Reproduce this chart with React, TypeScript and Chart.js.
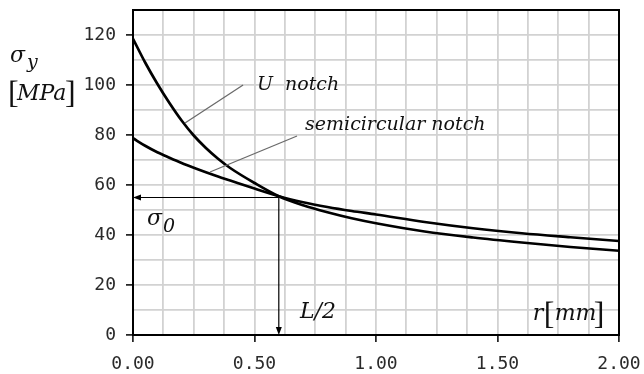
import React, { useEffect, useRef } from "react";
import { Chart, registerables } from "chart.js";

Chart.register(...registerables);

// r [mm]
const rValues = [0, 0.05, 0.1, 0.15, 0.2, 0.25, 0.3, 0.35, 0.4, 0.5, 0.6, 0.7, 0.8, 0.9, 1.0, 1.2, 1.4, 1.6, 1.8, 2.0];
// sigma_y [MPa]
const uNotch = [118.5, 109, 100.5, 92.8, 85.8, 79.8, 74.8, 70.5, 66.8, 60.8, 55.5, 51.9, 49.1, 46.7, 44.7, 41.4, 39.0, 37.0, 35.2, 33.7];
const semiNotch = [78.7, 75.7, 73.1, 70.9, 68.8, 66.9, 65.1, 63.4, 61.8, 58.6, 55.5, 53.1, 51.2, 49.6, 48.2, 45.2, 42.7, 40.7, 39.1, 37.6];

const xMin = 0, xMax = 2, xGridStep = 0.125, xLabelStep = 0.5;
const yMin = 0, yMax = 130, yGridStep = 10, yLabelStep = 20;

const SIGMA0 = 55;
const HALF_L = 0.6;

// leader lines (data coords)
const uLeader = [[0.453, 100], [0.214, 84.8]];
const semiLeader = [[0.675, 79.6], [0.317, 65.2]];
// label anchors (data coords, left/baseline)
const uLabelPos = [0.51, 98];
const semiLabelPos = [0.708, 82];
const halfLLabelPos = [0.687, 6.8];
const rLabelPos = [1.645, 6];
const sigma0LabelPos = [0.058, 44];

const SERIF = '"DejaVu Serif", serif';
const BRACKET = '"Liberation Serif", serif';

const isMultiple = (v: number, s: number) => Math.abs(v / s - Math.round(v / s)) < 1e-6;

const annotPlugin = {
  id: "annot",
  afterDatasetsDraw(chart: any) {
    const { ctx, chartArea: a, scales } = chart;
    const x = scales.x, y = scales.y;
    const P = (p: number[]) => [x.getPixelForValue(p[0]), y.getPixelForValue(p[1])];
    ctx.save();

    // frame
    ctx.strokeStyle = "#000";
    ctx.lineWidth = 2;
    ctx.strokeRect(a.left, a.top, a.right - a.left, a.bottom - a.top);

    // leader lines
    ctx.strokeStyle = "#6a6a6a";
    ctx.lineWidth = 1.3;
    for (const l of [uLeader, semiLeader]) {
      const p0 = P(l[0]), p1 = P(l[1]);
      ctx.beginPath();
      ctx.moveTo(p0[0], p0[1]);
      ctx.lineTo(p1[0], p1[1]);
      ctx.stroke();
    }

    // arrows
    const px = x.getPixelForValue(HALF_L), py = y.getPixelForValue(SIGMA0);
    const x0 = x.getPixelForValue(xMin), y0 = y.getPixelForValue(yMin);
    ctx.strokeStyle = "#000";
    ctx.fillStyle = "#000";
    ctx.lineWidth = 1.2;
    ctx.beginPath();
    ctx.moveTo(px, py);
    ctx.lineTo(x0 + 4, py);
    ctx.moveTo(px, py);
    ctx.lineTo(px, y0 - 4);
    ctx.stroke();
    ctx.beginPath();
    ctx.moveTo(x0, py);
    ctx.lineTo(x0 + 8, py - 3);
    ctx.lineTo(x0 + 8, py + 3);
    ctx.closePath();
    ctx.fill();
    ctx.beginPath();
    ctx.moveTo(px, y0);
    ctx.lineTo(px - 3, y0 - 8);
    ctx.lineTo(px + 3, y0 - 8);
    ctx.closePath();
    ctx.fill();

    // texts
    ctx.fillStyle = "#111";
    ctx.textBaseline = "alphabetic";
    ctx.textAlign = "left";
    let p = P(uLabelPos);
    ctx.font = `italic 19px ${SERIF}`;
    ctx.fillText("U  notch", p[0], p[1]);
    p = P(semiLabelPos);
    ctx.fillText("semicircular notch", p[0], p[1]);

    ctx.font = `italic 22px ${SERIF}`;
    p = P(halfLLabelPos);
    ctx.fillText("L/2", p[0], p[1]);

    // r [mm]
    p = P(rLabelPos);
    ctx.fillText("r", p[0], p[1]);
    ctx.font = `32px ${BRACKET}`;
    ctx.fillText("[", p[0] + 11, p[1] + 4);
    ctx.font = `italic 22px ${SERIF}`;
    ctx.fillText("mm", p[0] + 22, p[1]);
    ctx.font = `32px ${BRACKET}`;
    ctx.fillText("]", p[0] + 61, p[1] + 4);

    // sigma0
    p = P(sigma0LabelPos);
    ctx.font = `italic 22px ${SERIF}`;
    ctx.fillText("σ", p[0], p[1]);
    ctx.font = `italic 19px ${SERIF}`;
    ctx.fillText("0", p[0] + 16, p[1] + 7);

    // y axis title
    ctx.font = `italic 22px ${SERIF}`;
    ctx.fillText("σ", 10, 62);
    ctx.font = `italic 19px ${SERIF}`;
    ctx.fillText("y", 27, 68);
    ctx.font = `32px ${BRACKET}`;
    ctx.fillText("[", 8, 103);
    ctx.font = `italic 22px ${SERIF}`;
    ctx.fillText("MPa", 17, 100);
    ctx.font = `32px ${BRACKET}`;
    ctx.fillText("]", 65, 103);

    ctx.restore();
  },
};

export default function App() {
  const ref = useRef<HTMLCanvasElement | null>(null);
  useEffect(() => {
    if (!ref.current) return;
    const tickFont = { family: '"DejaVu Sans Mono", monospace', size: 18 };
    const chart = new Chart(ref.current, {
      type: "scatter",
      data: {
        datasets: [
          {
            label: "U notch",
            data: rValues.map((r, i) => ({ x: r, y: uNotch[i] })),
            showLine: true,
            borderColor: "#000",
            borderWidth: 2.7,
            pointRadius: 0,
            cubicInterpolationMode: "monotone",
          },
          {
            label: "semicircular notch",
            data: rValues.map((r, i) => ({ x: r, y: semiNotch[i] })),
            showLine: true,
            borderColor: "#000",
            borderWidth: 2.7,
            pointRadius: 0,
            cubicInterpolationMode: "monotone",
          },
        ],
      },
      options: {
        responsive: false,
        animation: false,
        layout: { padding: { top: 10, right: 25, left: 0, bottom: 0 } },
        plugins: { legend: { display: false }, tooltip: { enabled: false }, title: { display: false } },
        scales: {
          x: {
            type: "linear",
            min: xMin,
            max: xMax,
            afterFit: (s: any) => {
              s.height = 39;
              s.paddingLeft = 0;
              s.paddingRight = 0;
            },
            ticks: {
              stepSize: xGridStep,
              autoSkip: false,
              maxRotation: 0,
              padding: 12,
              color: "#2a2a2a",
              font: tickFont,
              callback: (v: any) => (isMultiple(Number(v), xLabelStep) ? Number(v).toFixed(2) : ""),
            },
            grid: {
              color: "#d2d2d2",
              lineWidth: 1.8,
              tickLength: 7,
              tickWidth: 1.5,
              tickColor: (c: any) => (c.tick && isMultiple(c.tick.value, xLabelStep) ? "#000" : "rgba(0,0,0,0)"),
            },
            border: { color: "#000", width: 2 },
          },
          y: {
            type: "linear",
            min: yMin,
            max: yMax,
            afterFit: (s: any) => {
              s.width = 133;
              s.paddingTop = 0;
              s.paddingBottom = 0;
            },
            ticks: {
              stepSize: yGridStep,
              autoSkip: false,
              padding: 10,
              color: "#2a2a2a",
              font: tickFont,
              callback: (v: any) => (isMultiple(Number(v), yLabelStep) ? String(v) : ""),
            },
            grid: {
              color: "#d2d2d2",
              lineWidth: 1.8,
              tickLength: 7,
              tickWidth: 1.5,
              tickColor: (c: any) => (c.tick && isMultiple(c.tick.value, yLabelStep) ? "#000" : "rgba(0,0,0,0)"),
            },
            border: { color: "#000", width: 2 },
          },
        },
      },
      plugins: [annotPlugin],
    });
    return () => chart.destroy();
  }, []);
  return (
    <div style={{ position: "absolute", left: 0, top: 0, width: 644, height: 374, background: "#fff" }}>
      <canvas ref={ref} width={644} height={374} style={{ display: "block" }} />
    </div>
  );
}
